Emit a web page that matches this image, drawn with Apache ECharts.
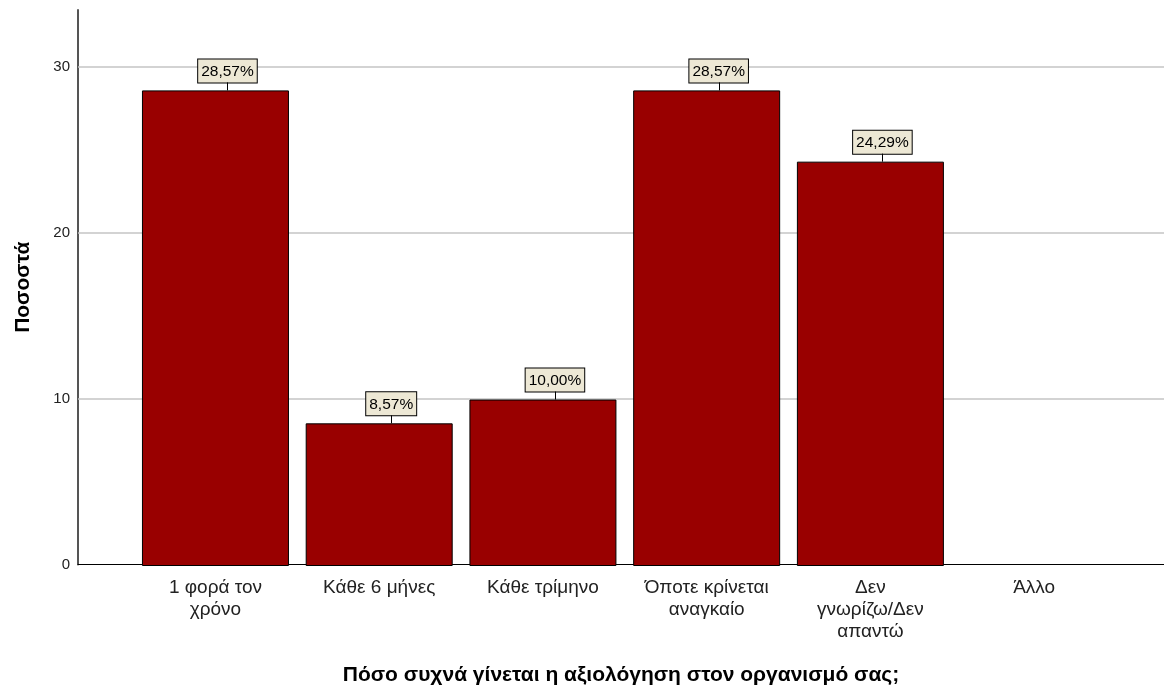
<!DOCTYPE html>
<html>
<head>
<meta charset="utf-8">
<script src="https://cdn.jsdelivr.net/npm/echarts@6/dist/echarts.min.js"></script>
<style>html,body{margin:0;padding:0;background:#fff;}#c{width:1164px;height:691px;}</style>
</head>
<body>
<div id="c"></div>
<script>
const categories = ['1 φορά τον\nχρόνο', 'Κάθε 6 μήνες', 'Κάθε τρίμηνο', 'Όποτε κρίνεται\nαναγκαίο', 'Δεν\nγνωρίζω/Δεν\nαπαντώ', 'Άλλο'];
const values = [28.57, 8.57, 10.00, 28.57, 24.29, null];
const yTicks = [0, 10, 20, 30];
const yMax = 33.4;
const yTitle = 'Ποσοστά';
const xTitle = 'Πόσο συχνά γίνεται η αξιολόγηση στον οργανισμό σας;';

const FONT = '"Liberation Sans", Arial, sans-serif';
const LABEL_SHIFT = 12;
const chart = echarts.init(document.getElementById('c'), null, {renderer: 'canvas'});
const fmt = v => v.toFixed(2).replace('.', ',') + '%';

chart.setOption({
  animation: false,
  backgroundColor: '#fff',
  grid: [
    {left: 78, right: 0, top: 10, bottom: 125},
    {left: 133.6, right: 48, top: 10, bottom: 125}
  ],
  xAxis: [
    {gridIndex: 0, type: 'value', min: 0, max: 1,
     axisLine: {show: true, lineStyle: {color: '#000', width: 1}},
     axisTick: {show: false}, axisLabel: {show: false}, splitLine: {show: false},
     name: xTitle, nameLocation: 'middle', nameGap: 111,
     nameTextStyle: {fontFamily: FONT, fontWeight: 'bold', fontSize: 21, color: '#000', verticalAlign: 'middle'}},
    {gridIndex: 1, type: 'category', data: categories,
     axisLine: {show: false}, axisTick: {show: false}, splitLine: {show: false},
     axisLabel: {interval: 0, margin: 11, fontFamily: FONT, fontSize: 19, lineHeight: 22, color: '#222', align: 'center'}}
  ],
  yAxis: [
    {gridIndex: 0, type: 'value', min: 0, max: yMax, interval: 10,
     axisLine: {show: true, lineStyle: {color: '#555', width: 2}},
     axisTick: {show: false}, splitLine: {show: false},
     axisLabel: {showMaxLabel: false, margin: 8, fontFamily: FONT, fontSize: 15, color: '#222',
       formatter: v => (yTicks.indexOf(v) >= 0 ? String(v) : '')},
     name: yTitle, nameLocation: 'middle', nameGap: 44, nameRotate: 90,
     nameTextStyle: {fontFamily: FONT, fontWeight: 'bold', fontSize: 21, color: '#000'}},
    {gridIndex: 1, type: 'value', min: 0, max: yMax, show: false}
  ],
  series: [
    {type: 'line', xAxisIndex: 0, yAxisIndex: 0, data: [[0, 0]], showSymbol: false, symbolSize: 0,
     lineStyle: {opacity: 0}, z: 1, zlevel: 0, silent: true,
     markLine: {silent: true, symbol: 'none', label: {show: false},
       lineStyle: {color: '#c4c4c4', width: 1.5, type: 'solid'},
       data: yTicks.filter(t => t > 0).map(t => ({yAxis: t}))}},
    {type: 'bar', xAxisIndex: 1, yAxisIndex: 1, data: values, barWidth: 147, z: 3, zlevel: 1,
     itemStyle: {color: '#990000', borderColor: '#000', borderWidth: 1},
     label: {show: true, position: 'top', distance: 8, offset: [LABEL_SHIFT, 0], formatter: p => fmt(p.value),
       fontFamily: FONT, fontSize: 15.5, lineHeight: 18, color: '#000', backgroundColor: '#EDE8D5',
       borderColor: '#000', borderWidth: 1, padding: [3, 3, 2, 3]}},
    {type: 'custom', xAxisIndex: 1, yAxisIndex: 1, z: 4, zlevel: 1, silent: true,
     data: values.map((v, i) => [i, v]).filter(d => d[1] != null),
     renderItem: (params, api) => {
       const p = api.coord([api.value(0), api.value(1)]);
       const x = Math.round(p[0] + LABEL_SHIFT) + 0.5;
       return {type: 'line', shape: {x1: x, y1: p[1], x2: x, y2: p[1] - 8},
               style: {stroke: '#000', lineWidth: 1}};
     }}
  ]
});
</script>
</body>
</html>
